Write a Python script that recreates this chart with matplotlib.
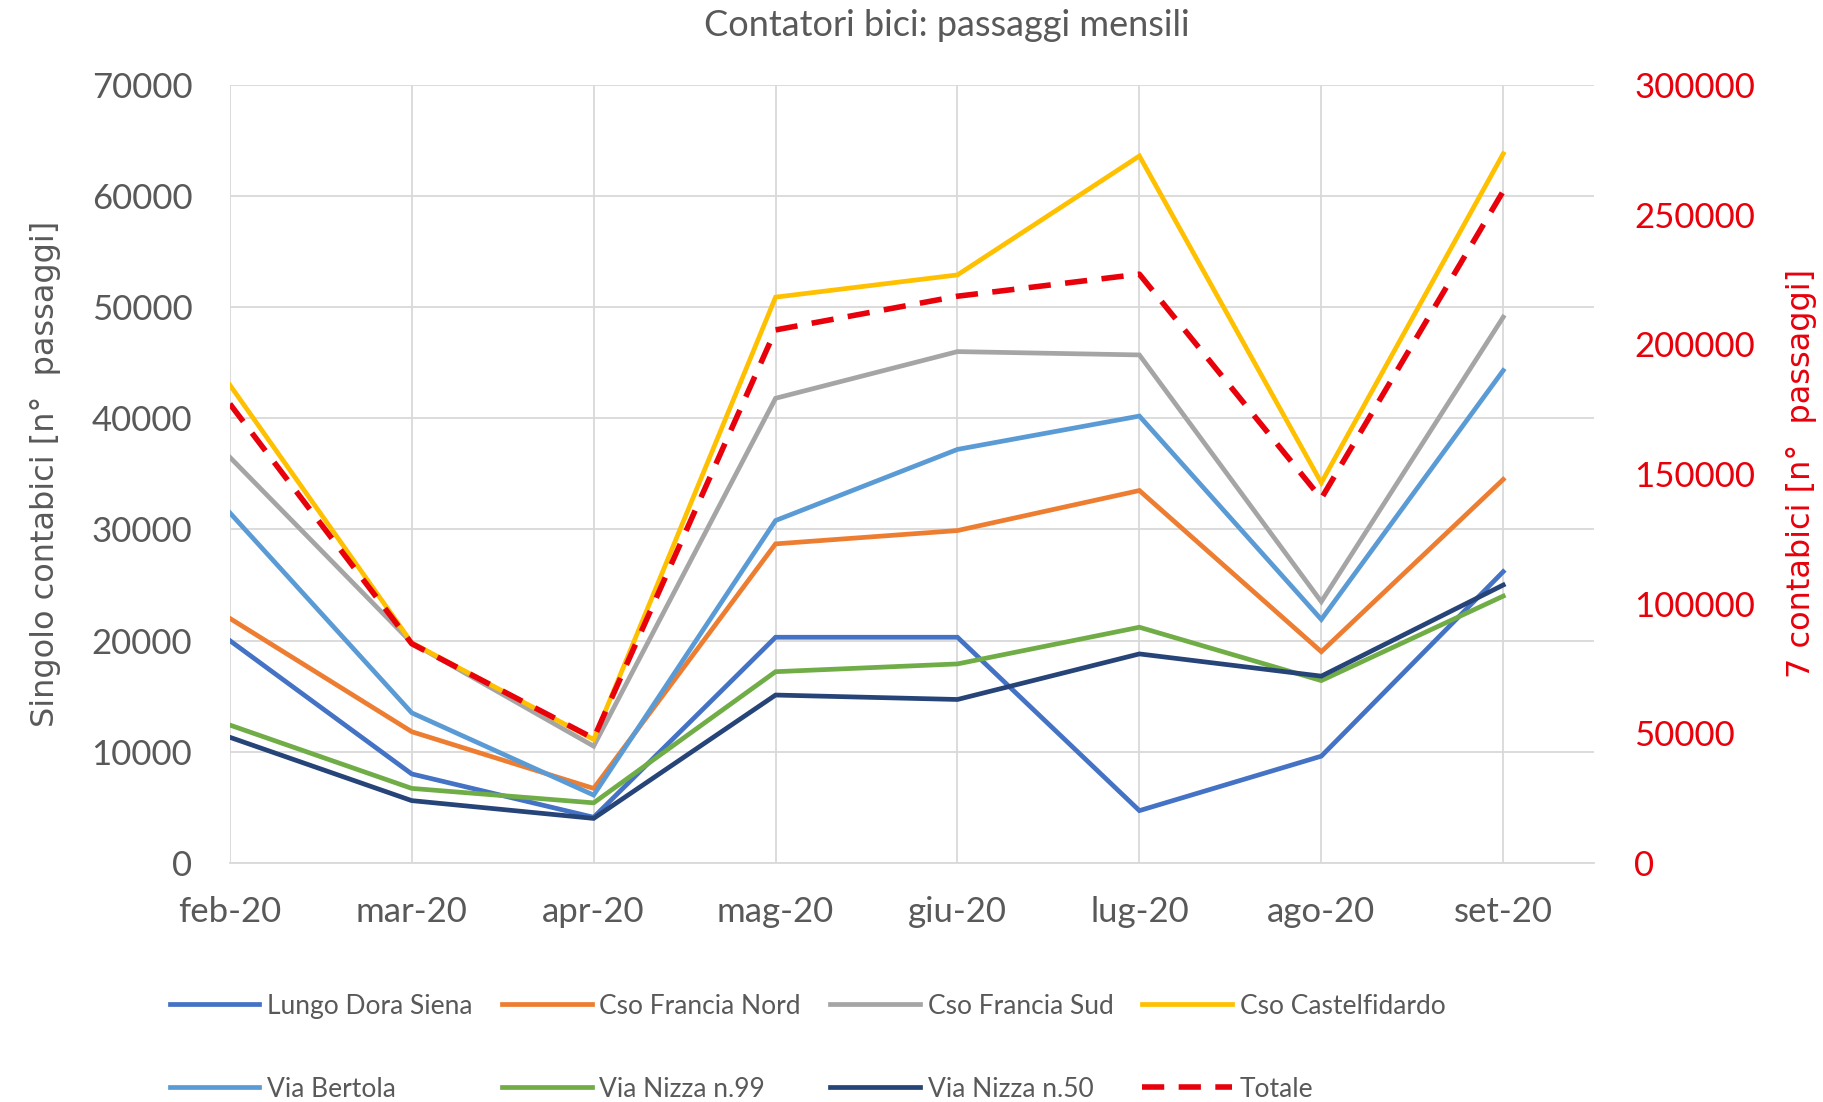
import matplotlib
matplotlib.use("Agg")
import matplotlib.pyplot as plt

months = ['feb-20', 'mar-20', 'apr-20', 'mag-20', 'giu-20', 'lug-20', 'ago-20', 'set-20']

lungo_dora_siena = [20000, 8000, 4100, 20300, 20300, 4700, 9600, 26200]
cso_francia_nord = [22000, 11800, 6700, 28700, 29900, 33500, 19000, 34500]
cso_francia_sud = [36500, 19800, 10500, 41800, 46000, 45700, 23500, 49100]
cso_castelfidardo = [43000, 19800, 11100, 50900, 52900, 63600, 34200, 63800]
via_bertola = [31500, 13500, 6100, 30800, 37200, 40200, 21900, 44300]
via_nizza_99 = [12400, 6700, 5400, 17200, 17900, 21200, 16400, 24000]
via_nizza_50 = [11300, 5600, 4000, 15100, 14700, 18800, 16800, 25000]
totale = [177000, 84500, 48000, 205500, 218500, 227000, 140500, 259000]

names = ['Lungo Dora Siena', 'Cso Francia Nord', 'Cso Francia Sud', 'Cso Castelfidardo',
         'Via Bertola', 'Via Nizza n.99', 'Via Nizza n.50']
colors = ['#4472C4', '#ED7D31', '#A5A5A5', '#FFC000', '#5B9BD5', '#70AD47', '#264478']
series = [lungo_dora_siena, cso_francia_nord, cso_francia_sud, cso_castelfidardo,
          via_bertola, via_nizza_99, via_nizza_50]

grey_txt = '#595959'
red = '#E8000B'
tick_font = 'Lato'

fig = plt.figure(figsize=(18.24, 11.02), dpi=100)
ax = fig.add_axes([0.126, 0.217, 0.748, 0.706])
x = list(range(len(months)))

handles = []
for vals, name, c in zip(series, names, colors):
    h, = ax.plot(x, vals, color=c, lw=3.4, label=name, solid_joinstyle='miter')
    handles.append(h)

ax.set_xlim(0, 7.5)
ax.set_ylim(0, 70000)
ax.set_yticks(range(0, 70001, 10000))
ax.set_xticks(x)
ax.set_xticklabels(months, fontsize=25, color=grey_txt, family=tick_font)
for lab in ax.get_yticklabels():
    lab.set_fontsize(25)
    lab.set_color(grey_txt)
    lab.set_family(tick_font)
ax.tick_params(axis='y', length=0, pad=27)
ax.tick_params(axis='x', length=0, pad=24)
ax.grid(True, color='#D9D9D9', lw=1.3)
ax.set_axisbelow(True)
for s in ['top', 'right', 'left']:
    ax.spines[s].set_visible(False)
ax.spines['bottom'].set_color('#D9D9D9')
ax.spines['bottom'].set_linewidth(1.3)
ax.set_ylabel('Singolo contabici [n°  passaggi]', fontsize=23, color=grey_txt,
              family='DejaVu Sans', labelpad=22)

ax2 = ax.twinx()
ht, = ax2.plot(x, totale, color=red, lw=4, ls=(0, (4, 2.6)), label='Totale')
ax2.set_ylim(0, 300000)
ax2.set_yticks(range(0, 300001, 50000))
for lab in ax2.get_yticklabels():
    lab.set_fontsize(25)
    lab.set_color(red)
    lab.set_family(tick_font)
ax2.tick_params(axis='y', length=0, pad=29)
for s in ['top', 'right', 'left', 'bottom']:
    ax2.spines[s].set_visible(False)
ax2.set_ylabel('7 contabici [n°  passaggi]', fontsize=23, color=red,
               family='DejaVu Sans', labelpad=22)

fig.text(0.519, 0.977, 'Contatori bici: passaggi mensili', ha='center', va='center',
         fontsize=26, color=grey_txt, family=tick_font)

order = [handles[0], handles[4], handles[1], handles[5], handles[2], handles[6],
         handles[3], ht]
leg = fig.legend(order, [h.get_label() for h in order], ncol=4, loc='upper left',
                 bbox_to_anchor=(0.08, 0.12), frameon=False, handlelength=3.4,
                 handletextpad=0.3, columnspacing=1.1, labelspacing=2.2,
                 prop={'family': tick_font, 'size': 19})
for t in leg.get_texts():
    t.set_color(grey_txt)

fig.savefig('out.png', dpi=100)
